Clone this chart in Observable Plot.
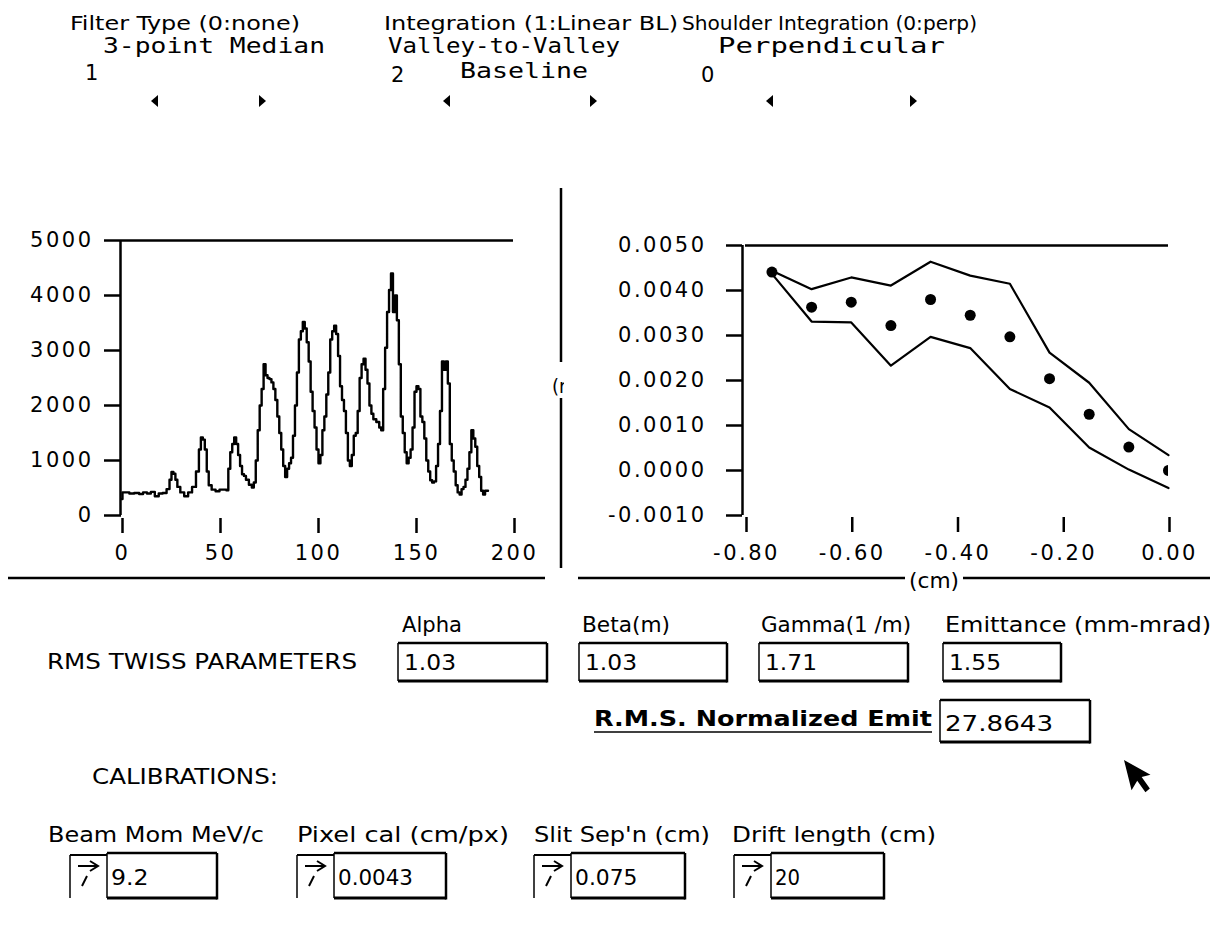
<!DOCTYPE html>
<html><head><meta charset="utf-8">
<script src="https://cdn.jsdelivr.net/npm/d3@7"></script>
<script src="https://cdn.jsdelivr.net/npm/@observablehq/plot@0.6"></script>
<style>
html,body{margin:0;padding:0;background:#fff;}
#root{position:relative;width:1217px;height:935px;overflow:hidden;background:#fff;}
#left,#right{position:absolute;}
#left{left:0;top:220px;}
#right{left:560px;top:220px;}
#ui{position:absolute;left:0;top:0;}
</style></head><body>
<div id="root"><div id="left"></div><div id="right"></div><svg id="ui" width="1217" height="935"></svg></div>
<script>
// ---- Left chart: beamlet profile (counts vs pixel) ----
const profilePx = [0,1,3,5,8,10,12,14,16,18,20,22,24,25,26,27,28,29,31,33,35,37,39,40,41,42,43,44,45,47,49,51,53,54,55,56,57,58,59,60,61,62,63,64,66,67,68,69,70,71,72,73,74,75,76,77,78,79,80,81,82,83,84,85,86,87,88,89,90,91,92,93,94,95,96,97,98,99,100,101,102,103,104,105,106,107,108,109,110,111,112,113,114,115,116,117,118,119,120,121,122,123,124,125,126,127,128,129,131,132,133,134,135,136,137,138,139,140,141,142,143,144,145,146,147,148,149,150,151,152,153,154,155,156,157,158,159,160,161,162,163,164,165,166,167,168,169,170,171,172,173,174,175,176,177,178,179,180,181,182,183,184,185,186,187];
const profileCounts = [300,420,420,400,410,390,420,400,430,350,400,410,480,650,790,760,650,520,420,350,420,520,800,1200,1420,1380,1200,800,550,470,440,470,470,460,850,1150,1300,1420,1300,1100,900,750,720,650,560,510,600,1000,1550,2000,2300,2750,2550,2500,2480,2420,2300,2100,1800,1500,1200,900,700,850,950,1050,1450,2000,2600,3200,3350,3520,3400,3150,2800,2250,1900,1600,1200,950,1100,1550,1800,2200,2600,3200,3350,3450,3300,2900,2350,2100,1900,1500,1000,900,1100,1450,1500,1900,2500,2750,2850,2650,2400,2000,1850,1750,1700,1600,1550,2300,3050,3700,4100,4400,3700,4000,3550,2750,1800,1500,1150,950,1050,1200,1600,2250,2350,2300,1800,1700,1400,1000,800,640,600,620,900,1300,1900,2800,2650,2800,2400,1300,1000,800,550,420,380,480,520,650,850,1150,1550,1400,1250,900,700,450,380,450,450];
const leftXTicks = [0, 50, 100, 150, 200];
const leftYTicks = [0, 1000, 2000, 3000, 4000, 5000];

// ---- Right chart: phase space (divergence vs position) ----
const slitPos   = [-0.75, -0.675, -0.6, -0.525, -0.45, -0.375, -0.3, -0.225, -0.15, -0.075, 0];
const divMean   = [0.00441, 0.00363, 0.00374, 0.00322, 0.00380, 0.00345, 0.00297, 0.00204, 0.00125, 0.00052, 0.0000];
const divUpper  = [0.00444, 0.00403, 0.00429, 0.00411, 0.00464, 0.00433, 0.00415, 0.00262, 0.00195, 0.00092, 0.00034];
const divLower  = [0.00437, 0.00331, 0.00329, 0.00233, 0.00297, 0.00272, 0.00181, 0.00140, 0.00051, 0.00002, -0.00039];
const rightXTicks = [-0.8, -0.6, -0.4, -0.2, 0];
const rightYTicks = [-0.001, 0, 0.001, 0.002, 0.003, 0.004, 0.005];

// ---- Panel values ----
const twissNames  = ["Alpha", "Beta(m)", "Gamma(1 /m)", "Emittance (mm-mrad)"];
const twissValues = ["1.03", "1.03", "1.71", "1.55"];
const normEmit    = "27.8643";
const calNames    = ["Beam Mom MeV/c", "Pixel cal (cm/px)", "Slit Sep'n (cm)", "Drift length (cm)"];
const calValues   = ["9.2", "0.0043", "0.075", "20"];

const profile = profilePx.map((p, i) => ({px: p, c: profileCounts[i]}));
const phase = slitPos.map((x, i) => ({x, m: divMean[i], u: divUpper[i], l: divLower[i]}));

const axisStyle = {fontFamily: "DejaVu Sans", fontSize: "21px", color: "#000", background: "none", overflow: "visible", letterSpacing: "2.5px"};

const left = Plot.plot({
  width: 560, height: 340,
  marginTop: 20, marginBottom: 45, marginLeft: 121, marginRight: 47,
  x: {domain: [0, 200]},
  y: {domain: [0, 5000]},
  style: axisStyle,
  marks: [
    Plot.axisY({ticks: leftYTicks, tickSize: 17, tickPadding: 11, label: null, strokeWidth: 2.5, tickFormat: d => String(d)}),
    Plot.axisX({ticks: leftXTicks, tickSize: 15, tickPadding: 12, label: null, strokeWidth: 2.5, dy: 3, dx: 1, tickFormat: d => String(d)}),
    Plot.ruleX([0], {y1: 0, y2: 5000, strokeWidth: 2.5, dx: -1}),
    Plot.ruleY([5000], {strokeWidth: 2.5}),
    Plot.lineY(profile, {x: "px", y: "c", curve: "step", strokeWidth: 2.4, stroke: "#000"})
  ]
});
document.getElementById("left").appendChild(left);

const right = Plot.plot({
  width: 657, height: 340,
  marginTop: 25, marginBottom: 45, marginLeft: 185, marginRight: 49,
  x: {domain: [-0.8, 0]},
  y: {domain: [-0.001, 0.005]},
  style: axisStyle,
  marks: [
    Plot.axisY({ticks: rightYTicks, tickSize: 16, tickPadding: 20, label: null, strokeWidth: 2.5, dx: -3, tickFormat: d => d.toFixed(4)}),
    Plot.axisX({ticks: rightXTicks, tickSize: 15, tickPadding: 13, label: null, strokeWidth: 2.5, dy: 2, dx: 1, tickFormat: d => d.toFixed(2)}),
    Plot.ruleX([-0.8], {y1: -0.001, y2: 0.005, strokeWidth: 2.5, dx: -3}),
    Plot.ruleY([0.005], {strokeWidth: 2.5}),
    Plot.line(phase, {x: "x", y: "u", strokeWidth: 2.2, stroke: "#000"}),
    Plot.line(phase, {x: "x", y: "l", strokeWidth: 2.2, stroke: "#000"}),
    Plot.dot(phase, {x: "x", y: "m", r: 5.5, fill: "#000", stroke: "none", clip: true})
  ]
});
document.getElementById("right").appendChild(right);

// ---- UI overlay (labels, frames, boxes) ----
const ui = d3.select("#ui");
const COND = "'DejaVu Sans Condensed','DejaVu Sans',sans-serif";
const MONO = "'DejaVu Sans Mono',monospace";
const SANS = "'DejaVu Sans',sans-serif";
function txt(s, x, y, o = {}) {
  const t = ui.append("text").attr("x", x).attr("y", y).text(s)
    .attr("font-family", o.font || COND).attr("font-size", o.size || 21)
    .attr("fill", "#000").attr("text-anchor", o.anchor || "start");
  if (o.w) t.attr("textLength", o.w).attr("lengthAdjust", "spacingAndGlyphs");
  if (o.weight) t.attr("font-weight", o.weight);
  return t;
}
function line(x1, y1, x2, y2, w = 2.5) {
  ui.append("line").attr("x1", x1).attr("y1", y1).attr("x2", x2).attr("y2", y2)
    .attr("stroke", "#000").attr("stroke-width", w);
}
function box(x1, y1, x2, y2) {
  line(x1, y1, x2, y1, 2.5);
  line(x1, y1, x1, y2, 1.5);
  line(x2, y1, x2, y2 + 1.5, 2.5);
  line(x1, y2, x2, y2, 3);
}
function triL(x, y) { ui.append("polygon").attr("points", `${x-4},${y} ${x+3},${y-6} ${x+3},${y+6}`).attr("fill", "#000"); }
function triR(x, y) { ui.append("polygon").attr("points", `${x+4},${y} ${x-3},${y-6} ${x-3},${y+6}`).attr("fill", "#000"); }

// top controls
txt("Filter Type (0:none)", 70, 30, {w: 230, size: 20});
txt("Integration (1:Linear BL)", 384, 30, {w: 294, size: 20});
txt("Shoulder Integration (0:perp)", 682, 30, {w: 295, size: 20});
txt("3-point Median", 103, 53, {font: MONO, w: 222, size: 21});
txt("Valley-to-Valley", 388, 53, {font: MONO, w: 232, size: 21});
txt("Perpendicular", 718, 53, {font: MONO, w: 227, size: 21});
txt("1", 85, 80, {font: SANS, size: 21});
txt("2", 391, 82, {font: SANS, size: 21});
txt("Baseline", 460, 78, {font: MONO, w: 128, size: 21});
txt("0", 701, 82, {font: SANS, size: 21});
triL(155, 101); triR(262, 101);
triL(447, 101); triR(593, 101);
triL(770, 101); triR(913, 101);

// chart frames
line(8, 578, 545, 578, 2.5);
line(578, 578, 905, 578, 2.5);
line(963, 578, 1210, 578, 2.5);
line(561, 188, 561, 362, 2.5);
line(561, 398, 561, 568, 2.5);
txt("(cm)", 934, 588, {size: 21, anchor: "middle", w: 50});
ui.append("clipPath").attr("id", "yl").append("rect").attr("x", 553).attr("y", 370).attr("width", 11).attr("height", 30);
txt("(rad)", 552, 393, {size: 20}).attr("clip-path", "url(#yl)");

// twiss
const twissLabelX = [402, 582, 761, 945];
const twissLabelW = [60, 88, 150, 266];
const twissBoxX = [[398, 547], [579, 727], [759, 908], [943, 1061]];
twissNames.forEach((n, i) => txt(n, twissLabelX[i], 632, {w: twissLabelW[i], size: 22}));
txt("RMS TWISS PARAMETERS", 47, 669, {w: 310, size: 22});
twissValues.forEach((v, i) => {
  box(twissBoxX[i][0], 643, twissBoxX[i][1], 681);
  txt(v, twissBoxX[i][0] + 6, 670, {size: 21, w: v.length * 13});
});
txt("R.M.S. Normalized Emit", 594, 726, {w: 338, size: 22, weight: "bold"});
line(594, 732, 932, 732, 1.5);
box(940, 700, 1090, 742);
txt(normEmit, 945, 731, {size: 21, w: 108});
txt("CALIBRATIONS:", 92, 784, {w: 186, size: 22});

// calibrations
const calLabelX = [48, 297, 534, 732];
const calLabelW = [216, 212, 176, 204];
const calBtnX = [70, 297, 534, 734];
const calBoxR = [217, 446, 685, 884];
calNames.forEach((n, i) => txt(n, calLabelX[i], 842, {w: calLabelW[i], size: 22}));
calValues.forEach((v, i) => {
  const bx = calBtnX[i], bw = 37;
  line(bx, 855, bx, 898, 1.5);
  line(bx, 855, bx + bw, 855, 2);
  line(bx + 8, 866, bx + 28, 866, 2);
  ui.append("polyline").attr("points", `${bx+20},${861} ${bx+28},${866} ${bx+20},${871}`).attr("fill", "none").attr("stroke", "#000").attr("stroke-width", 2);
  line(bx + 17, 876, bx + 12, 886, 2);
  box(bx + bw, 853, calBoxR[i], 898);
  txt(v, bx + bw + 4, 885, {size: 21, w: v.length * 12.5});
});

// cursor
ui.append("path")
  .attr("d", "M0,0 L0,24 L6,18 L10,28 L14,26 L10,16 L17,16 Z")
  .attr("transform", "translate(1124,760) rotate(-14) scale(1.3)")
  .attr("fill", "#000");
</script>
</body></html>
